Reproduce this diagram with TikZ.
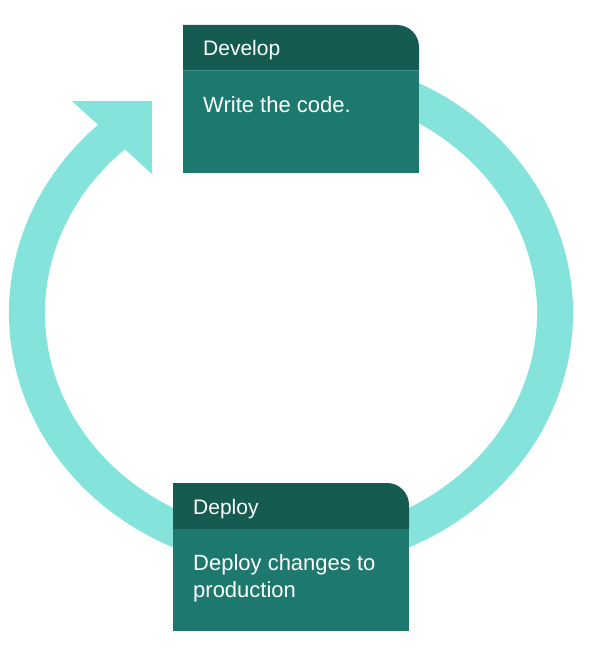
\documentclass[tikz,border=0pt]{standalone}
\usepackage{fontspec}
\setmainfont{Liberation Sans}
\usetikzlibrary{positioning,backgrounds}

\definecolor{ringteal}{RGB}{132,227,218}
\definecolor{headteal}{RGB}{21,91,82}
\definecolor{bodyteal}{RGB}{29,120,110}
\definecolor{lineteal}{RGB}{66,146,137}

\tikzset{
  cardhead/.style={minimum width=236pt, minimum height=46pt, inner sep=0pt, outer sep=0pt},
  cardbody/.style={minimum width=236pt, minimum height=102pt, inner sep=0pt, outer sep=0pt, fill=bodyteal},
  headtext/.style={text=white, font=\fontsize{21}{25}\selectfont, inner sep=0pt, anchor=base west},
  bodytext/.style={text=white, font=\fontsize{22}{27}\selectfont, inner sep=0pt, anchor=north west, align=left},
  ring/.style={ringteal, line width=36pt},
}

\begin{document}
\begin{tikzpicture}[x=1pt, y=-1pt]
        \useasboundingbox (0,0) rectangle (590,658);

        % Develop card
        \node[cardhead, anchor=north west] (devhead) at (183,25) {};
        \node[cardbody, below=0pt of devhead] (devbody) {};
        \node[headtext] (devtitle) at ([shift={(20,31)}]devhead.north west) {Develop};
        \node[bodytext] (devtext) at ([shift={(20,25)}]devbody.north west) {Write the code.};

        % Deploy card
        \node[cardhead, anchor=north west] (dephead) at (173,483) {};
        \node[cardbody, below=0pt of dephead] (depbody) {};
        \node[headtext] (deptitle) at ([shift={(20,31)}]dephead.north west) {Deploy};
        \node[bodytext] (deptext) at ([shift={(20,25)}]depbody.north west) {Deploy changes to\\production};

        \begin{scope}[on background layer]
        % Cycle ring with arrow head
        \coordinate (ringc) at (291,313);
        \draw[ring] (ringc) ++(-70:264 and 240)
          arc[start angle=-70, end angle=229.5, x radius=264, y radius=240];
        \fill[ringteal] (152,101) -- (72,101) -- (152,174) -- cycle;

        % Card headers with rounded top right corner
        \foreach \c in {dev,dep} {
          \fill[headteal] (\c head.south west) -- (\c head.north west)
            -- ([xshift=-22pt]\c head.north east) arc[start angle=90, end angle=0, radius=22pt]
            -- (\c head.south east) -- cycle;
          \draw[lineteal, line width=1pt] (\c head.south west) -- (\c head.south east);
        }
        \end{scope}
\end{tikzpicture}
\end{document}
